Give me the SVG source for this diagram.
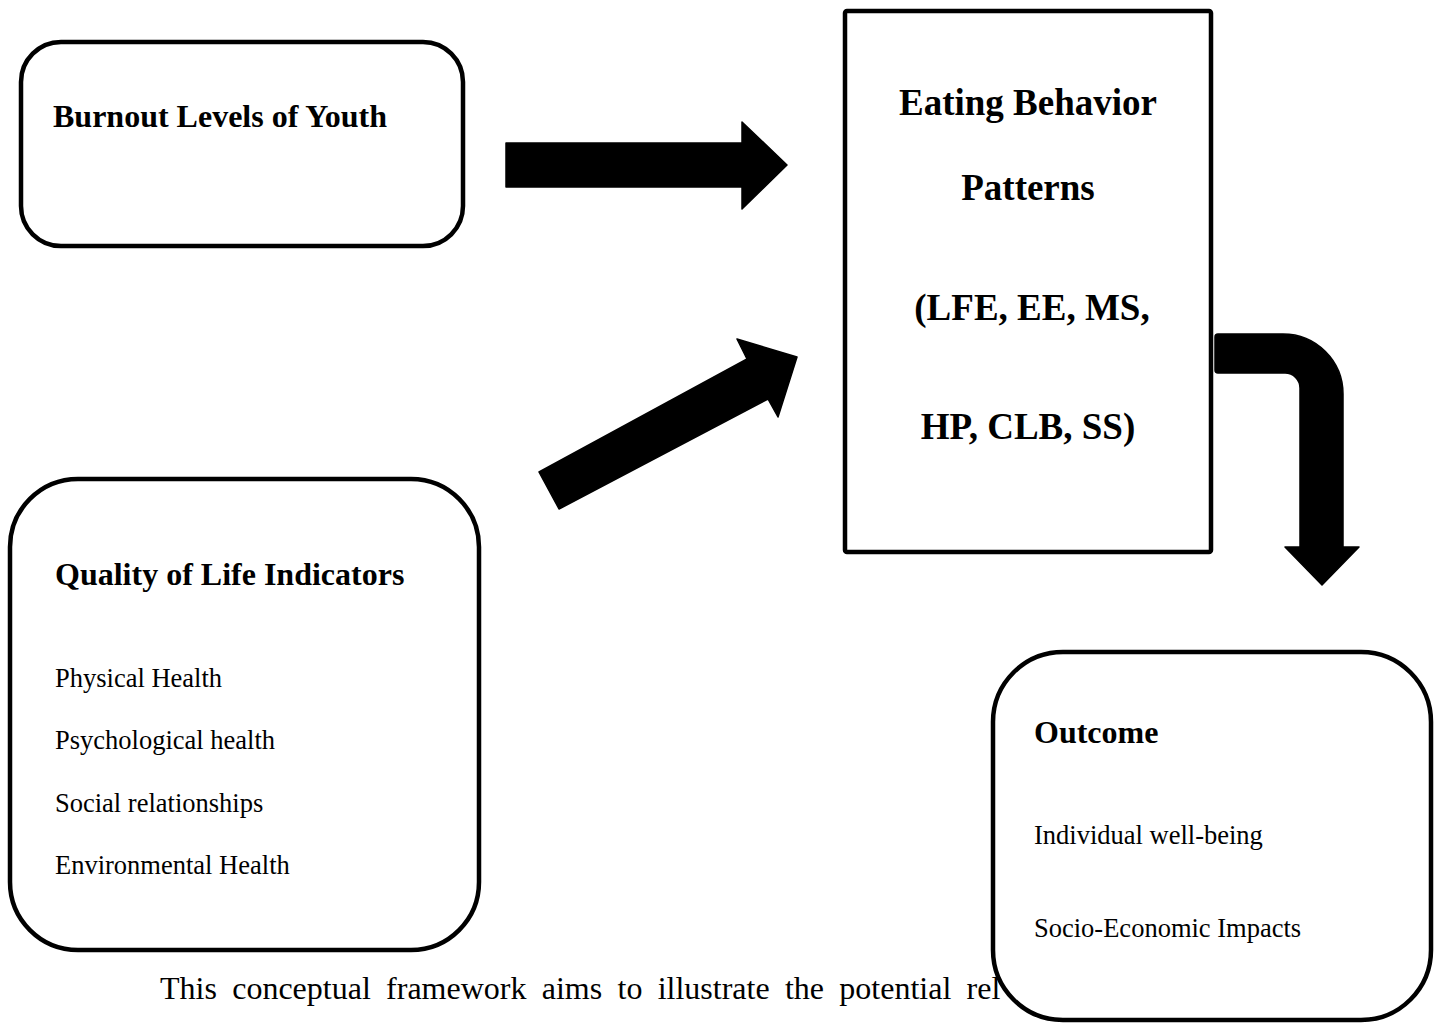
<svg xmlns="http://www.w3.org/2000/svg" width="1439" height="1023" viewBox="0 0 1439 1023">
<style>
.box{fill:#fff;stroke:#000;stroke-width:4.5}
.b{font-family:"Liberation Serif","Times New Roman",serif;font-weight:bold;fill:#000}
.r{font-family:"Liberation Serif","Times New Roman",serif;fill:#000}
.arr{fill:#000;stroke:#000;stroke-width:1.5;stroke-linejoin:round}
</style>
<rect width="1439" height="1023" fill="#fff"/>
<text class="r" x="160" y="999" font-size="32" word-spacing="7.3">This conceptual framework aims to illustrate the potential rel</text>
<g id="burnout">
<rect class="box" x="21" y="42" width="442" height="204" rx="40"/>
<text class="b" x="53" y="127" font-size="32">Burnout Levels of Youth</text>
</g>
<g id="eating">
<rect class="box" x="845" y="11" width="366" height="541" rx="2"/>
<text class="b" x="1028" y="115" font-size="37" text-anchor="middle">Eating Behavior</text>
<text class="b" x="1028" y="200" font-size="37" text-anchor="middle">Patterns</text>
<text class="b" x="1032" y="320" font-size="37" text-anchor="middle">(LFE, EE, MS,</text>
<text class="b" x="1028" y="439" font-size="37" text-anchor="middle">HP, CLB, SS)</text>
</g>
<g id="qol">
<rect class="box" x="10" y="479" width="469" height="471" rx="68"/>
<text class="b" x="55" y="585" font-size="32">Quality of Life Indicators</text>
<text class="r" x="55" y="687" font-size="26.5">Physical Health</text>
<text class="r" x="55" y="749" font-size="26.5">Psychological health</text>
<text class="r" x="55" y="812" font-size="26.5">Social relationships</text>
<text class="r" x="55" y="874" font-size="26.5">Environmental Health</text>
</g>
<g id="outcome">
<rect class="box" x="993" y="652" width="438" height="368" rx="70"/>
<text class="b" x="1034" y="743" font-size="32">Outcome</text>
<text class="r" x="1034" y="844" font-size="26.5">Individual well-being</text>
<text class="r" x="1034" y="937" font-size="26.5">Socio-Economic Impacts</text>
</g>
<g id="connectors">
<polygon class="arr" points="506,143 742,143 742,122 787,165 742,209 742,187 506,187"/>
<polygon class="arr" points="539,472 747,359 737,339 797,357 778,417 768,399 559,509"/>
<path class="arr" d="M1215,337 Q1215,334 1218,334 H1283 A60,60 0 0 1 1343,394 V547 H1359 L1322,585 L1285,547 H1300 V388 A15,15 0 0 0 1285,373 H1218 Q1215,373 1215,370 Z"/>
</g>
</svg>
